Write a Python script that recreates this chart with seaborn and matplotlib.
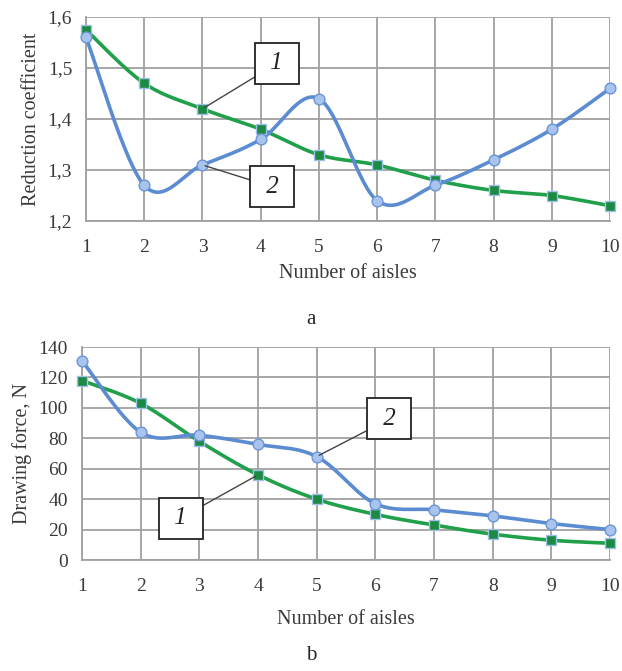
import numpy as np
import matplotlib
matplotlib.use("Agg")
import matplotlib.pyplot as plt
import seaborn as sns

# data
aisles = [1, 2, 3, 4, 5, 6, 7, 8, 9, 10]
coef_1 = [1.575, 1.47, 1.42, 1.38, 1.33, 1.31, 1.28, 1.26, 1.25, 1.23]
coef_2 = [1.56, 1.27, 1.31, 1.36, 1.44, 1.24, 1.27, 1.32, 1.38, 1.46]
force_1 = [118, 103, 78, 56, 40, 30, 23, 17, 13, 11]
force_2 = [131, 84, 82, 76, 68, 37, 33, 29, 24, 20]
coef_ticks = [1.2, 1.3, 1.4, 1.5, 1.6]
force_ticks = [0, 20, 40, 60, 80, 100, 120, 140]

GREEN = "#21a04b"
BLUE = "#5b8bd0"
GRID = "#a0a0a0"
TEXT = "#3a3a3a"

sns.set_style("white")
plt.rcParams['font.family'] = ['Liberation Serif', 'DejaVu Serif']


def smooth(x, y, n=30):
    # excel-like smoothed line (catmull-rom bezier)
    x = np.asarray(x, float)
    y = np.asarray(y, float)
    px = np.concatenate([[x[0]], x, [x[-1]]])
    py = np.concatenate([[y[0]], y, [y[-1]]])
    xs, ys = [], []
    t = np.linspace(0, 1, n)
    for i in range(1, len(px) - 2):
        p0 = np.array([px[i], py[i]])
        p3 = np.array([px[i + 1], py[i + 1]])
        c1 = p0 + (np.array([px[i + 1], py[i + 1]]) - np.array([px[i - 1], py[i - 1]])) / 6
        c2 = p3 - (np.array([px[i + 2], py[i + 2]]) - np.array([px[i], py[i]])) / 6
        b = ((1 - t) ** 3)[:, None] * p0 + (3 * (1 - t) ** 2 * t)[:, None] * c1 \
            + (3 * (1 - t) * t ** 2)[:, None] * c2 + (t ** 3)[:, None] * p3
        xs.extend(b[:, 0])
        ys.extend(b[:, 1])
    return xs, ys


def draw_series(ax, y, color, marker, mface, medge):
    sx, sy = smooth(aisles, y)
    ax.plot(sx, sy, color=color, lw=2.6, zorder=3, solid_capstyle="round", clip_on=False)
    sns.scatterplot(x=aisles, y=y, ax=ax, marker=marker, s=60, color=mface,
                    edgecolor=medge, linewidth=1.0, zorder=4, clip_on=False)


def style_axes(ax, yticks, ylabels, ylabel, xlabelpad):
    ax.set_xlim(1, 10)
    ax.set_ylim(yticks[0], yticks[-1])
    ax.set_xticks(aisles)
    ax.set_yticks(yticks)
    ax.set_yticklabels(ylabels)
    ax.grid(True, color=GRID, lw=1.3)
    for name, s in ax.spines.items():
        s.set_visible(name in ("left", "bottom"))
        s.set_color(GRID)
        s.set_linewidth(1.3)
    ax.tick_params(axis="both", labelsize=14, colors=TEXT, length=5, width=1.3,
                   color=GRID, pad=5)
    ax.tick_params(axis="x", pad=8)
    ax.set_xlabel("Number of aisles", fontsize=14.5, color=TEXT, labelpad=xlabelpad)
    ax.set_ylabel(ylabel, fontsize=14.5, color=TEXT, labelpad=5)
    ax.set_axisbelow(True)


def label_box(ax, text, box_xy, point_xy):
    ax.annotate(" " + text + " ", xy=point_xy, xytext=box_xy, fontsize=18, style="italic",
                ha="center", va="center", color="#222222", zorder=6,
                bbox=dict(boxstyle="square,pad=0.38", fc="white", ec="#222222", lw=1.3),
                arrowprops=dict(arrowstyle="-", color="#444444", lw=1.0,
                                shrinkA=0, shrinkB=2))


fig = plt.figure(figsize=(6.22, 6.71), dpi=100)

# panel a
ax1 = fig.add_axes([0.1383, 0.6706, 0.8424, 0.304])
draw_series(ax1, coef_1, GREEN, "s", "#1c8a42", "#9fc0e8")
draw_series(ax1, coef_2, BLUE, "o", "#a9c4ec", "#6a95d6")
style_axes(ax1, coef_ticks, [f"{v:.1f}".replace(".", ",") for v in coef_ticks],
           "Reduction coefficient", 6)
label_box(ax1, "1", (4.28, 1.509), (3, 1.42))
label_box(ax1, "2", (4.20, 1.267), (3, 1.31))

# panel b
ax2 = fig.add_axes([0.1318, 0.1654, 0.849, 0.3174])
draw_series(ax2, force_1, GREEN, "s", "#1c8a42", "#9fc0e8")
draw_series(ax2, force_2, BLUE, "o", "#a9c4ec", "#6a95d6")
style_axes(ax2, force_ticks, [str(v) for v in force_ticks], "Drawing force, N", 11)
label_box(ax2, "2", (6.24, 92.7), (5, 68))
label_box(ax2, "1", (2.68, 27.6), (4, 56))

fig.text(0.5, 1 - 320 / 671, "a", ha="center", va="center", fontsize=15)
fig.text(0.5, 1 - 655 / 671, "b", ha="center", va="center", fontsize=15)

fig.savefig("out.png", dpi=100)
